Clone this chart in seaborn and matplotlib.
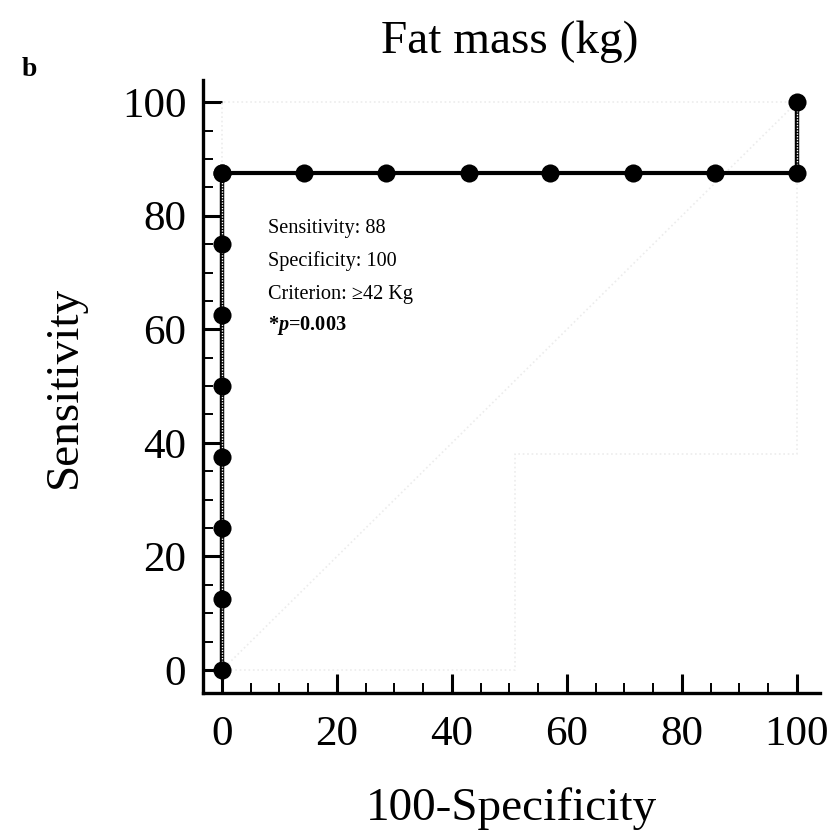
import matplotlib
matplotlib.use("Agg")
import matplotlib.pyplot as plt
import numpy as np
import pandas as pd
import seaborn as sns
from matplotlib.ticker import MultipleLocator

# ROC points (100-Specificity, Sensitivity)
fpr_vert = [0, 0, 0, 0, 0, 0, 0, 0]
tpr_vert = [0, 12.5, 25, 37.5, 50, 62.5, 75, 87.5]
fpr_horiz = [0, 14.3, 28.6, 42.9, 57.1, 71.4, 85.7, 100]
tpr_horiz = [87.5, 87.5, 87.5, 87.5, 87.5, 87.5, 87.5, 87.5]
fpr_last = [100, 100]
tpr_last = [87.5, 100]

# faint confidence bounds
lower_x = [0, 51, 51, 100, 100]
lower_y = [0, 0, 38, 38, 100]
upper_x = [0, 0, 100]
upper_y = [0, 100, 100]

annot_lines = ["Sensitivity: 88", "Specificity: 100", "Criterion: \u226542 Kg"]

sns.set_theme(style="white")
plt.rcParams["font.family"] = ["Liberation Serif", "DejaVu Serif"]
plt.rcParams["text.color"] = "black"
plt.rcParams["axes.labelcolor"] = "black"
plt.rcParams["xtick.color"] = "black"
plt.rcParams["ytick.color"] = "black"
plt.rcParams["mathtext.fontset"] = "custom"
plt.rcParams["mathtext.it"] = "Liberation Serif:italic:bold"

fig = plt.figure(figsize=(8.33, 8.30), dpi=100)
ax = fig.add_axes([203 / 833, 1 - 693 / 830, (820 - 203) / 833, (693 - 80) / 830])

faint = dict(color="#ececec", lw=1.2, linestyle=":", zorder=1)
ax.plot([0, 100], [0, 100], **faint)
ax.plot(lower_x, lower_y, **faint)
ax.plot(upper_x, upper_y, **faint)

# vertical segments: thick black with dotted white core
for xs, ys in [(fpr_vert, tpr_vert), (fpr_last, tpr_last)]:
    ax.plot(xs, ys, color="black", lw=3.2, zorder=2, solid_capstyle="butt")
    ax.plot(xs, ys, color="white", lw=1.0, linestyle=(0, (1, 1)), zorder=3)

df_h = pd.DataFrame({"x": fpr_horiz, "y": tpr_horiz})
sns.lineplot(data=df_h, x="x", y="y", color="black", lw=3, ax=ax, zorder=3)

df_pts = pd.DataFrame({
    "x": fpr_vert + fpr_horiz + fpr_last[1:],
    "y": tpr_vert + tpr_horiz + tpr_last[1:],
})
sns.scatterplot(data=df_pts, x="x", y="y", color="black", s=170, edgecolor="black",
                linewidth=0, ax=ax, zorder=4)

ax.set_xlim(-3.3, 104.0)
ax.set_ylim(-4.05, 103.9)
ax.xaxis.set_major_locator(MultipleLocator(20))
ax.xaxis.set_minor_locator(MultipleLocator(5))
ax.yaxis.set_major_locator(MultipleLocator(20))
ax.yaxis.set_minor_locator(MultipleLocator(5))
ax.tick_params(which="major", direction="in", length=14, width=2.2, labelsize=31,
               bottom=True, left=True)
ax.tick_params(axis="x", which="major", pad=16)
ax.tick_params(axis="y", which="major", pad=12)
ax.tick_params(which="minor", direction="in", length=7.5, width=1.4, bottom=True, left=True)
for s in ["top", "right"]:
    ax.spines[s].set_visible(False)
for s in ["left", "bottom"]:
    ax.spines[s].set_linewidth(2.4)
    ax.spines[s].set_color("black")

ax.set_xlabel("100-Specificity", fontsize=34, labelpad=24)
ax.set_ylabel("Sensitivity", fontsize=34, labelpad=26)

fig.text(510 / 833, 1 - 42 / 830, "Fat mass (kg)", fontsize=34, ha="center", va="center")
fig.text(22 / 833, 1 - 70 / 830, "b", fontsize=20, fontweight="bold", ha="left", va="center")

for i, line in enumerate(annot_lines):
    fig.text(268 / 833, 1 - (228 + i * 33) / 830, line, fontsize=14.6, ha="left", va="center")
fig.text(268 / 833, 1 - 325 / 830, r"*$p$=0.003", fontsize=14.6, fontweight="bold",
         ha="left", va="center")

fig.savefig("out.png", dpi=100, facecolor="white")
